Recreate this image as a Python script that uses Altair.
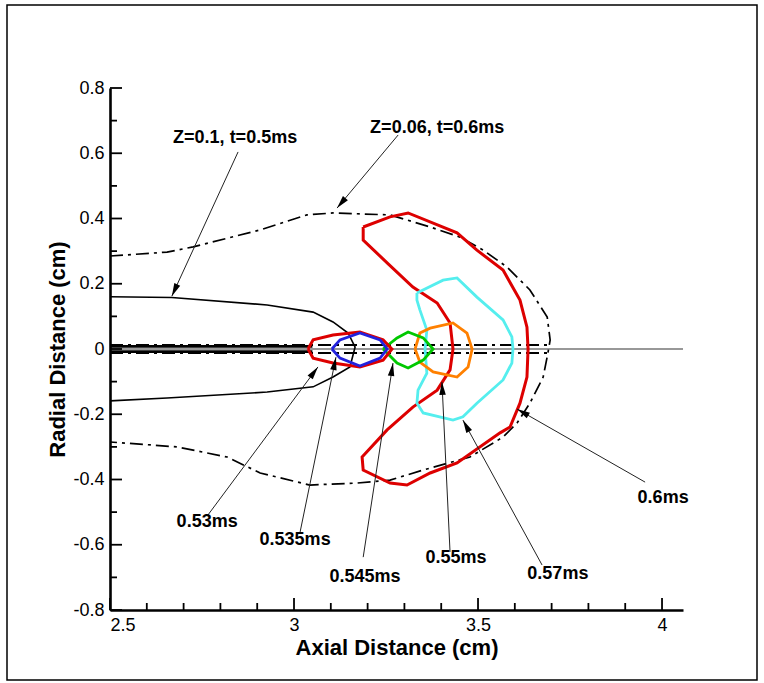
import math
import altair as alt
import pandas as pd

# ---------------- data ----------------
X_MIN, X_MAX = 2.5, 4.057
Y_MIN, Y_MAX = -0.8, 0.8
W, H = 573, 522

# Z=0.1, t=0.5ms (black solid)
z01_x = [2.5, 2.668, 2.927, 3.052, 3.106, 3.147, 3.166, 3.152, 3.106, 3.052, 2.927, 2.655, 2.5]
z01_y = [0.160, 0.158, 0.135, 0.113, 0.083, 0.049, 0.006, -0.055, -0.086, -0.116, -0.132, -0.150, -0.159]
z01_in_x = [2.5, 3.05]
z01_in_up = [0.008, 0.008]
z01_in_dn = [-0.008, -0.008]

# Z=0.06, t=0.6ms (black dash-dot)
z006_x = [2.5, 2.655, 2.726, 2.908, 3.035, 3.106, 3.261, 3.370, 3.451, 3.514, 3.579, 3.641, 3.688,
          3.696, 3.690, 3.677, 3.641, 3.606, 3.568, 3.478, 3.351, 3.261, 3.171, 3.043, 2.908,
          2.818, 2.682, 2.5]
z006_y = [0.285, 0.297, 0.313, 0.365, 0.411, 0.417, 0.411, 0.374, 0.343, 0.303, 0.251, 0.181, 0.098,
          0.028, -0.012, -0.086, -0.166, -0.227, -0.270, -0.331, -0.371, -0.402, -0.411, -0.417,
          -0.380, -0.331, -0.300, -0.285]
z006_in_x = [2.5, 3.69]
z006_in_up = [0.012, 0.012]
z006_in_dn = [-0.012, -0.012]

axis0_x = [2.5, 4.057]
axis0_y = [0.0, 0.0]

t053_x = [3.038, 3.052, 3.106, 3.179, 3.242, 3.266, 3.242, 3.179, 3.106, 3.052, 3.038]
t053_y = [0.0, 0.028, 0.043, 0.052, 0.028, 0.0, -0.034, -0.055, -0.043, -0.028, 0.0]

t0535_x = [3.103, 3.125, 3.179, 3.234, 3.253, 3.234, 3.179, 3.125, 3.103]
t0535_y = [0.0, 0.028, 0.049, 0.028, 0.0, -0.028, -0.052, -0.028, 0.0]

t0545_x = [3.242, 3.280, 3.310, 3.351, 3.378, 3.351, 3.310, 3.280, 3.242]
t0545_y = [0.0, 0.034, 0.052, 0.034, 0.0, -0.034, -0.058, -0.043, 0.0]

t055_x = [3.329, 3.342, 3.370, 3.432, 3.470, 3.484, 3.473, 3.443, 3.378, 3.342, 3.329]
t055_y = [0.0, 0.049, 0.064, 0.080, 0.049, 0.0, -0.055, -0.086, -0.070, -0.040, 0.0]

t057_x = [3.334, 3.405, 3.443, 3.497, 3.568, 3.592, 3.595, 3.592, 3.568, 3.497, 3.459, 3.432,
          3.351, 3.334, 3.337, 3.361, 3.356, 3.361, 3.342, 3.334, 3.334]
t057_y = [0.172, 0.211, 0.218, 0.159, 0.089, 0.037, 0.0, -0.043, -0.095, -0.166, -0.208, -0.218,
          -0.196, -0.166, -0.126, -0.074, 0.0, 0.058, 0.120, 0.150, 0.172]

t06_x = [3.188, 3.261, 3.310, 3.443, 3.497, 3.568, 3.614, 3.633, 3.636, 3.633, 3.614, 3.587, 3.560,
         3.443, 3.370, 3.307, 3.261, 3.188, 3.185, 3.253, 3.323, 3.389, 3.424, 3.432, 3.424,
         3.389, 3.323, 3.253, 3.188, 3.188]
t06_y = [0.374, 0.405, 0.417, 0.356, 0.303, 0.242, 0.150, 0.067, 0.0, -0.086, -0.166, -0.239, -0.257,
         -0.349, -0.380, -0.417, -0.411, -0.371, -0.331, -0.248, -0.178, -0.126, -0.064, 0.0, 0.080,
         0.141, 0.190, 0.264, 0.334, 0.374]

# annotations
ann_text = ["Z=0.1, t=0.5ms", "Z=0.06, t=0.6ms", "0.53ms", "0.535ms", "0.545ms", "0.55ms", "0.57ms", "0.6ms"]
ann_tx = [2.840, 3.389, 2.764, 3.003, 3.193, 3.440, 3.717, 4.003]
ann_ty = [0.647, 0.677, -0.530, -0.585, -0.699, -0.641, -0.690, -0.457]
arr_x0 = [2.848, 3.283, 2.766, 3.016, 3.188, 3.424, 3.674, 3.954]
arr_y0 = [0.604, 0.656, -0.509, -0.564, -0.638, -0.622, -0.662, -0.408]
arr_x1 = [2.668, 3.117, 3.065, 3.114, 3.269, 3.402, 3.459, 3.606]
arr_y1 = [0.162, 0.432, -0.055, -0.025, -0.043, -0.101, -0.218, -0.184]

x_major = [2.5, 3.0, 3.5, 4.0]
x_minor = [2.6, 2.7, 2.8, 2.9, 3.1, 3.2, 3.3, 3.4, 3.6, 3.7, 3.8, 3.9]
y_major = [-0.8, -0.6, -0.4, -0.2, 0.0, 0.2, 0.4, 0.6, 0.8]
y_minor = [-0.7, -0.5, -0.3, -0.1, 0.1, 0.3, 0.5, 0.7]

# ---------------- build ----------------
FONT = "Liberation Sans"
xs = alt.Scale(domain=[X_MIN, X_MAX], nice=False, zero=False)
ys = alt.Scale(domain=[Y_MIN, Y_MAX], nice=False, zero=False)
sx = W / (X_MAX - X_MIN)   # px per x unit
sy = H / (Y_MAX - Y_MIN)   # px per y unit


def series(name, xv, yv):
    return pd.DataFrame({"s": name, "i": list(range(len(xv))), "x": xv, "y": yv})


def line_layer(df, color, width, dash=None, axes=False):
    kw = dict(color=color, strokeWidth=width, clip=True)
    if dash is not None:
        kw["strokeDash"] = dash
    if axes:
        xenc = alt.X("x:Q", scale=xs, title="Axial Distance (cm)",
                     axis=alt.Axis(values=x_major, labelExpr="toString(round(datum.value*10)/10)"))
        yenc = alt.Y("y:Q", scale=ys, title="Radial Distance (cm)",
                     axis=alt.Axis(values=y_major, labelExpr="toString(round(datum.value*10)/10)"))
    else:
        xenc = alt.X("x:Q", scale=xs)
        yenc = alt.Y("y:Q", scale=ys)
    return alt.Chart(df).mark_line(**kw).encode(
        x=xenc, y=yenc, detail="s:N", order="i:Q")


DASHDOT = [13, 5, 3, 5]

black_solid = series("z01", z01_x, z01_y)
black_thick = pd.concat([series("z01a", z01_in_x, z01_in_up), series("z01b", z01_in_x, z01_in_dn)])
black_dd = series("z006", z006_x, z006_y)
black_dd_in = pd.concat([series("z006a", z006_in_x, z006_in_up), series("z006b", z006_in_x, z006_in_dn)])
zero_line = series("ax", axis0_x, axis0_y)

layers = [
    line_layer(zero_line, "#333333", 1.2, axes=True),
    line_layer(black_solid, "black", 1.6),
    line_layer(black_thick, "black", 2.6),
    line_layer(black_dd, "black", 1.7, DASHDOT),
    line_layer(black_dd_in, "black", 2.0, DASHDOT),
    line_layer(series("t06", t06_x, t06_y), "#dd0000", 3),
    line_layer(series("t057", t057_x, t057_y), "#55eeee", 2.8),
    line_layer(series("t055", t055_x, t055_y), "#ff8000", 2.8),
    line_layer(series("t0545", t0545_x, t0545_y), "#00c800", 2.8),
    line_layer(series("t053", t053_x, t053_y), "#dd0000", 3),
    line_layer(series("t0535", t0535_x, t0535_y), "#2222dd", 2.8),
]

# annotation arrows
angles = []
for a, b, c, d in zip(arr_x0, arr_y0, arr_x1, arr_y1):
    dx = (c - a) * sx
    dy = -(d - b) * sy
    angles.append(math.degrees(math.atan2(dx, -dy)) % 360)

arr_df = pd.DataFrame({"x0": arr_x0, "y0": arr_y0, "x1": arr_x1, "y1": arr_y1, "ang": angles})
ann_df = pd.DataFrame({"t": ann_text, "x": ann_tx, "y": ann_ty})

rules = alt.Chart(arr_df).mark_rule(color="#222222", strokeWidth=1).encode(
    x=alt.X("x0:Q", scale=xs), y=alt.Y("y0:Q", scale=ys),
    x2="x1:Q", y2="y1:Q")
heads = alt.Chart(arr_df).mark_point(
    shape="M0,0L0.5,2L-0.5,2Z", filled=True, color="black", opacity=1, size=169, strokeWidth=0
).encode(x=alt.X("x1:Q", scale=xs), y=alt.Y("y1:Q", scale=ys), angle=alt.Angle("ang:Q", scale=None))
texts = alt.Chart(ann_df).mark_text(
    font=FONT, fontSize=18, fontWeight="bold", color="black", baseline="middle", align="center"
).encode(x=alt.X("x:Q", scale=xs), y=alt.Y("y:Q", scale=ys), text="t:N")

# inward ticks (axis ticks point into the plot)
xt_df = pd.DataFrame({"xv": x_major + x_minor,
                      "major": [1] * len(x_major) + [0] * len(x_minor)})
yt_df = pd.DataFrame({"yv": y_major + y_minor,
                      "major": [1] * len(y_major) + [0] * len(y_minor)})
xt_df["ylo"] = Y_MIN
xt_df["yhi"] = Y_MIN + xt_df["major"].map({1: 12, 0: 7}) / sy
yt_df["xlo"] = X_MIN
yt_df["xhi"] = X_MIN + yt_df["major"].map({1: 12, 0: 7}) / sx

xticks = alt.Chart(xt_df).mark_rule(color="black", strokeWidth=1.8).encode(
    x=alt.X("xv:Q", scale=xs), y=alt.Y("ylo:Q", scale=ys), y2="yhi:Q")
yticks = alt.Chart(yt_df).mark_rule(color="black", strokeWidth=1.8).encode(
    y=alt.Y("yv:Q", scale=ys), x=alt.X("xlo:Q", scale=xs), x2="xhi:Q")

frame = alt.Chart(pd.DataFrame({"a": [0]})).mark_rect(
    fillOpacity=0, stroke="black", strokeWidth=1.5
).encode(x=alt.value(7 - 110), x2=alt.value(757 - 110), y=alt.value(5 - 88), y2=alt.value(680 - 88))

chart = alt.layer(
    *layers, rules, heads, texts, xticks, yticks, frame
).properties(
    width=W, height=H,
    padding={"left": 110, "top": 88, "right": 764 - 110 - W, "bottom": 683 - 88 - H},
    autosize=alt.AutoSizeParams(type="none"),
    background="white",
).configure_view(strokeWidth=0).configure_axis(
    grid=False, ticks=False, tickSize=0, domainColor="black", domainWidth=2.6,
    labelFont=FONT, labelFontSize=18, labelColor="black", labelPadding=6,
    titleFont=FONT, titleFontSize=22, titleFontWeight="bold", titleColor="black",
).configure_axisX(titlePadding=3).configure_axisY(titlePadding=3)

chart.save("out.html", embed_options={"renderer": "svg", "actions": False})
